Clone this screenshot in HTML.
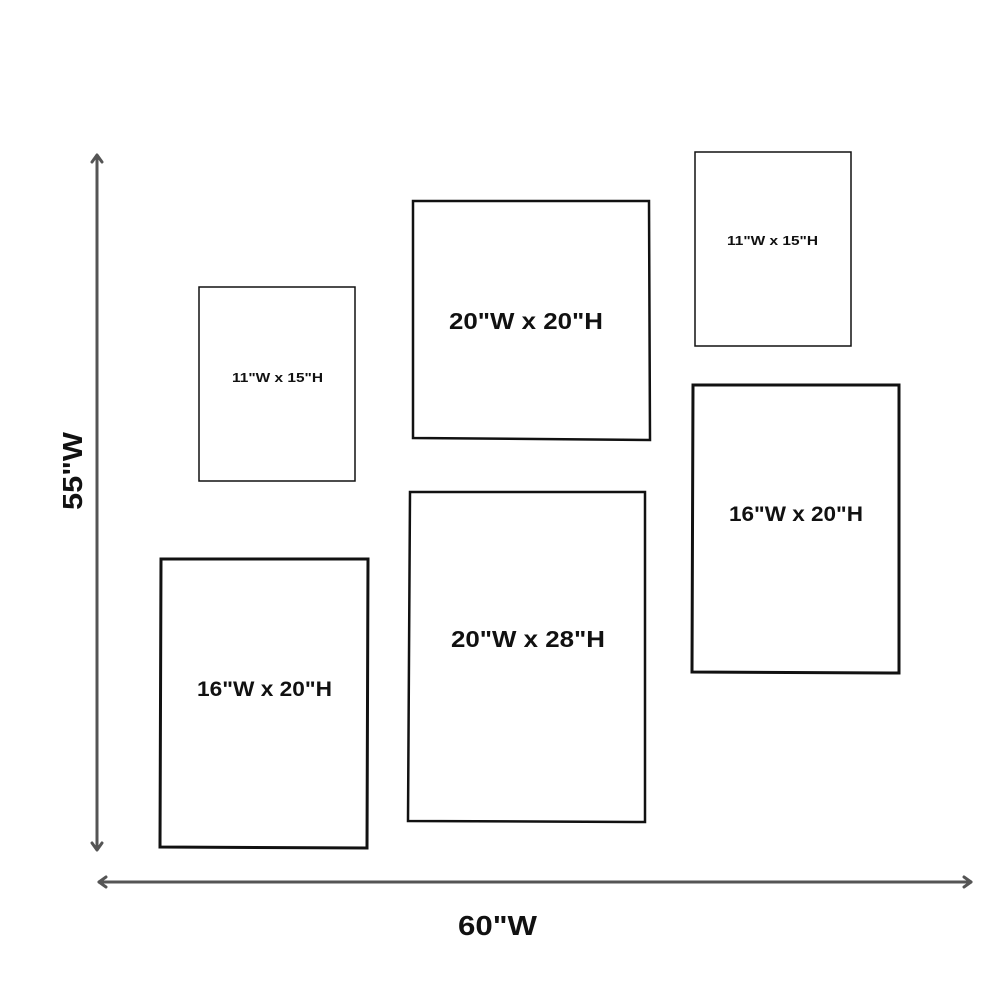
<!DOCTYPE html>
<html><head><meta charset="utf-8"><style>
html,body{margin:0;padding:0;background:#fff;}
svg{display:block;}
text{font-family:"Liberation Sans",sans-serif;font-weight:bold;fill:#111;}
</style></head><body>
<svg width="1000" height="1000" viewBox="0 0 1000 1000">
<g fill="none" stroke="#111" stroke-linejoin="miter">
<polygon points="199,287 355,287 355,481 199,481" stroke-width="1.5"/>
<polygon points="413,201 649,201 650,440 413,438" stroke-width="2.5"/>
<polygon points="695,152 851,152 851,346 695,346" stroke-width="1.5"/>
<polygon points="693,385 899,385 899,673 692,672" stroke-width="3"/>
<polygon points="410,492 645,492 645,822 408,821" stroke-width="2.5"/>
<polygon points="161,559 368,559 367,848 160,847" stroke-width="3"/>
</g>
<g fill="none" stroke="#555" stroke-width="3" stroke-linecap="round" stroke-linejoin="round">
<line x1="97" y1="156" x2="97" y2="849"/>
<polyline points="92,162 97,155 102,162"/>
<polyline points="92,843 97,850 102,843"/>
<line x1="99" y1="882" x2="971" y2="882"/>
<polyline points="106,877 99,882 106,887"/>
<polyline points="964,877 971,882 964,887"/>
</g>
<text x="232" y="382" font-size="13" textLength="91" lengthAdjust="spacingAndGlyphs">11"W x 15"H</text>
<text x="727" y="245" font-size="13" textLength="91" lengthAdjust="spacingAndGlyphs">11"W x 15"H</text>
<text x="449" y="329" font-size="23" textLength="154" lengthAdjust="spacingAndGlyphs">20"W x 20"H</text>
<text x="729" y="521" font-size="21" textLength="134" lengthAdjust="spacingAndGlyphs">16"W x 20"H</text>
<text x="451" y="647" font-size="23" textLength="154" lengthAdjust="spacingAndGlyphs">20"W x 28"H</text>
<text x="197" y="696" font-size="21" textLength="135" lengthAdjust="spacingAndGlyphs">16"W x 20"H</text>
<text x="458" y="935" font-size="28" textLength="79" lengthAdjust="spacingAndGlyphs">60"W</text>
<text transform="translate(82,510) rotate(-90)" font-size="28" textLength="78" lengthAdjust="spacingAndGlyphs">55"W</text>
</svg>
</body></html>
